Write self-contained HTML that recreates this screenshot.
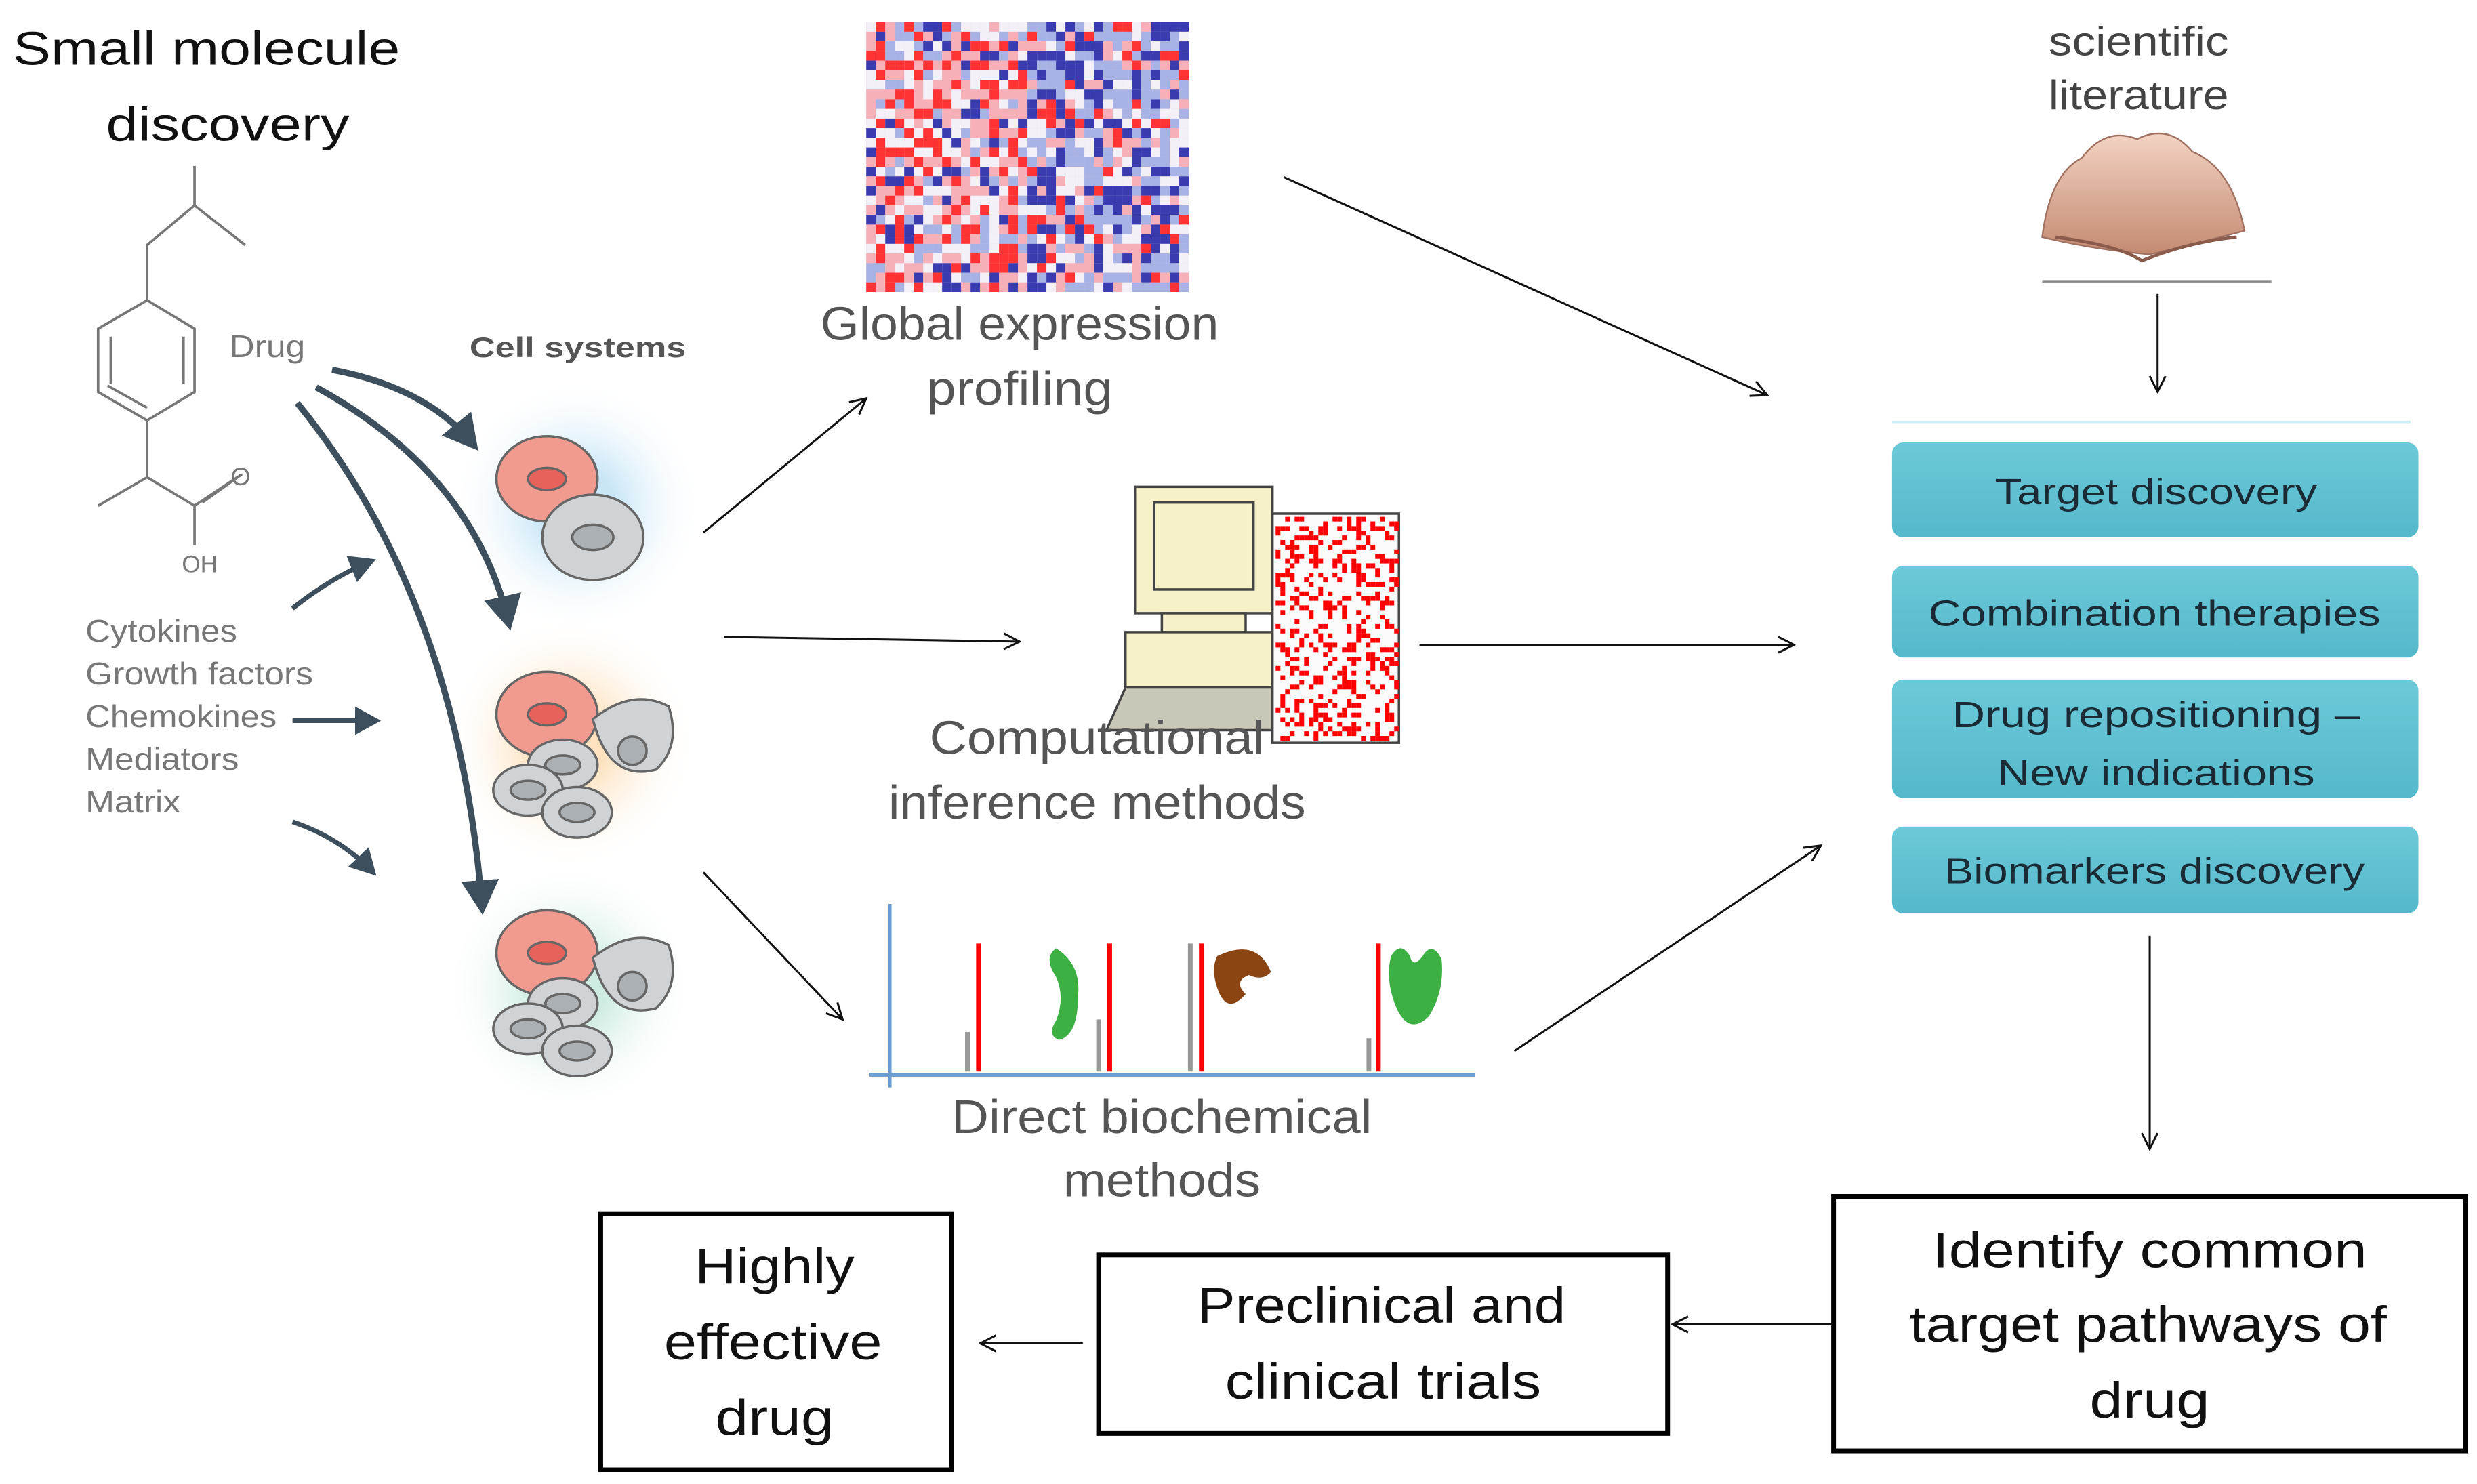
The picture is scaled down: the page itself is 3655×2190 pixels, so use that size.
<!DOCTYPE html>
<html><head><meta charset="utf-8"><style>
html,body{margin:0;padding:0;background:#fff;width:3655px;height:2190px;overflow:hidden}
svg{display:block}
text{font-family:"Liberation Sans",sans-serif}
</style></head><body>
<svg id="s" width="3655" height="2190" viewBox="0 0 1567 939" xmlns="http://www.w3.org/2000/svg">
<defs>
<marker id="a" markerWidth="12" markerHeight="12" refX="11" refY="6" orient="auto" markerUnits="userSpaceOnUse"><path d="M1,1 L11,6 L1,11" fill="none" stroke="#111" stroke-width="1.3"/></marker>
<marker id="t" markerWidth="6" markerHeight="6" refX="4.5" refY="3" orient="auto"><path d="M0,0 L5.5,3 L0,6 Z" fill="#3d4f5c"/></marker>
<radialGradient id="gb"><stop offset="0.3" stop-color="#c9e6f7"/><stop offset="1" stop-color="#fff" stop-opacity="0"/></radialGradient>
<radialGradient id="go"><stop offset="0.3" stop-color="#fde2bf"/><stop offset="1" stop-color="#fff" stop-opacity="0"/></radialGradient>
<radialGradient id="gg"><stop offset="0.3" stop-color="#cfece3"/><stop offset="1" stop-color="#fff" stop-opacity="0"/></radialGradient>
<linearGradient id="bx" x1="0" y1="0" x2="0" y2="1"><stop offset="0" stop-color="#6cc9d9"/><stop offset="1" stop-color="#55b9cb"/></linearGradient>
<linearGradient id="bk" x1="0" y1="0" x2="0" y2="1"><stop offset="0" stop-color="#f3d3c3"/><stop offset="1" stop-color="#c48a72"/></linearGradient>
</defs>

<text x="8" y="41" font-size="30" fill="#111" textLength="245" lengthAdjust="spacingAndGlyphs">Small molecule</text>
<text x="67" y="89" font-size="30" fill="#111" textLength="154" lengthAdjust="spacingAndGlyphs">discovery</text>

<g stroke="#777" stroke-width="1.6" fill="none">
<path d="M123,105 L123,130 L155,155 M123,130 L93,155 L93,190"/>
<path d="M93,190 L123,208 L123,248 L93,266 L62,248 L62,208 Z"/>
<path d="M70,213 L70,243 M116,213 L116,243 M93,258 L68,244"/>
<path d="M93,266 L93,302 L62,320 M93,302 L123,320 L150,302 M123,320 L123,345 M128,318 L153,300"/>
</g>
<text x="146" y="307" font-size="16" fill="#777">O</text>
<text x="115" y="362" font-size="15" fill="#777">OH</text>
<text x="145" y="226" font-size="20" fill="#777" textLength="48" lengthAdjust="spacingAndGlyphs">Drug</text>
<text x="297" y="226" font-size="18" font-weight="bold" fill="#555" textLength="137" lengthAdjust="spacingAndGlyphs">Cell systems</text>
<g font-size="20" fill="#777">
<text x="54" y="406" textLength="96" lengthAdjust="spacingAndGlyphs">Cytokines</text><text x="54" y="433" textLength="144" lengthAdjust="spacingAndGlyphs">Growth factors</text><text x="54" y="460" textLength="121" lengthAdjust="spacingAndGlyphs">Chemokines</text><text x="54" y="487" textLength="97" lengthAdjust="spacingAndGlyphs">Mediators</text><text x="54" y="514" textLength="60" lengthAdjust="spacingAndGlyphs">Matrix</text>
</g>

<circle cx="365" cy="320" r="80" fill="url(#gb)"/>
<circle cx="360" cy="470" r="80" fill="url(#go)"/>
<circle cx="360" cy="625" r="80" fill="url(#gg)"/>
<g stroke="#666" stroke-width="1.5">
<ellipse cx="346" cy="303" rx="32" ry="27" fill="#f19a90"/><ellipse cx="346" cy="303" rx="12" ry="7" fill="#e8625c"/>
<ellipse cx="375" cy="340" rx="32" ry="27" fill="#cfd3d6"/><ellipse cx="375" cy="340" rx="13" ry="8" fill="#aab0b4"/>
<ellipse cx="346" cy="452" rx="32" ry="27" fill="#f19a90"/><ellipse cx="346" cy="452" rx="12" ry="7" fill="#e8625c"/>
<path d="M375,455 q25,-20 48,-8 q8,25 -8,40 q-30,8 -40,-32z" fill="#cfd3d6"/><circle cx="400" cy="475" r="9" fill="#aab0b4"/>
<ellipse cx="356" cy="484" rx="22" ry="16" fill="#cfd3d6"/><ellipse cx="356" cy="484" rx="11" ry="6" fill="#aab0b4"/>
<ellipse cx="334" cy="500" rx="22" ry="16" fill="#cfd3d6"/><ellipse cx="334" cy="500" rx="11" ry="6" fill="#aab0b4"/>
<ellipse cx="365" cy="514" rx="22" ry="16" fill="#cfd3d6"/><ellipse cx="365" cy="514" rx="11" ry="6" fill="#aab0b4"/>
<ellipse cx="346" cy="603" rx="32" ry="27" fill="#f19a90"/><ellipse cx="346" cy="603" rx="12" ry="7" fill="#e8625c"/>
<path d="M375,606 q25,-20 48,-8 q8,25 -8,40 q-30,8 -40,-32z" fill="#cfd3d6"/><circle cx="400" cy="624" r="9" fill="#aab0b4"/>
<ellipse cx="356" cy="635" rx="22" ry="16" fill="#cfd3d6"/><ellipse cx="356" cy="635" rx="11" ry="6" fill="#aab0b4"/>
<ellipse cx="334" cy="651" rx="22" ry="16" fill="#cfd3d6"/><ellipse cx="334" cy="651" rx="11" ry="6" fill="#aab0b4"/>
<ellipse cx="365" cy="665" rx="22" ry="16" fill="#cfd3d6"/><ellipse cx="365" cy="665" rx="11" ry="6" fill="#aab0b4"/>
</g>
<g stroke="#3d4f5c" stroke-width="4" fill="none" marker-end="url(#t)">
<path d="M210,234 Q270,245 300,282"/>
<path d="M200,245 Q300,300 322,395"/>
<path d="M188,255 Q290,380 305,575"/>
<path d="M185,385 Q210,365 235,355" stroke-width="3"/>
<path d="M185,456 L238,456" stroke-width="3"/>
<path d="M185,520 Q215,530 236,552" stroke-width="3"/>
</g>

<rect x="548" y="14" width="204" height="170" fill="#e8c8d8"/>
<g id="hm"></g>
<text x="645" y="215" font-size="30" fill="#555" text-anchor="middle" textLength="252" lengthAdjust="spacingAndGlyphs">Global expression</text>
<text x="645" y="256" font-size="30" fill="#555" text-anchor="middle" textLength="118" lengthAdjust="spacingAndGlyphs">profiling</text>

<g stroke="#444" stroke-width="1.5">
<rect x="718" y="308" width="87" height="80" fill="#f7f1c9"/>
<rect x="730" y="318" width="63" height="55" fill="#f7f1c9"/>
<rect x="735" y="388" width="53" height="12" fill="#f7f1c9"/>
<rect x="712" y="400" width="110" height="35" fill="#f7f1c9"/>
<path d="M712,435 L700,462 L815,462 L815,435Z" fill="#c8c7b8"/>
<rect x="805" y="325" width="80" height="145" fill="#fafafa"/>
</g>
<g id="cm"></g>
<text x="694" y="477" font-size="30" fill="#555" text-anchor="middle" textLength="212" lengthAdjust="spacingAndGlyphs">Computational</text>
<text x="694" y="518" font-size="30" fill="#555" text-anchor="middle" textLength="264" lengthAdjust="spacingAndGlyphs">inference methods</text>

<line x1="563" y1="572" x2="563" y2="688" stroke="#6a9bd1" stroke-width="2"/>
<line x1="550" y1="680" x2="933" y2="680" stroke="#6a9bd1" stroke-width="2.5"/>
<g stroke="red" stroke-width="3"><line x1="619" y1="597" x2="619" y2="678"/><line x1="702" y1="597" x2="702" y2="678"/><line x1="760" y1="597" x2="760" y2="678"/><line x1="872" y1="597" x2="872" y2="678"/></g>
<g stroke="#999" stroke-width="3"><line x1="612" y1="653" x2="612" y2="678"/><line x1="695" y1="645" x2="695" y2="678"/><line x1="753" y1="597" x2="753" y2="678"/><line x1="866" y1="657" x2="866" y2="678"/></g>
<path d="M668,600 q16,10 14,30 q0,25 -12,28 q-8,-3 -2,-12 q6,-15 0,-28 q-8,-12 0,-18z" fill="#3cb043"/>
<path d="M770,605 q25,-12 34,10 q-5,6 -14,2 q-10,4 -2,12 q-12,14 -18,-4 q-4,-12 0,-20z" fill="#8b4513"/>
<path d="M880,605 q6,-10 12,0 q2,8 8,0 q6,-10 12,2 q2,20 -8,36 q-12,12 -20,-4 q-8,-18 -4,-34z" fill="#3cb043"/>
<text x="735" y="717" font-size="30" fill="#555" text-anchor="middle" textLength="266" lengthAdjust="spacingAndGlyphs">Direct biochemical</text>
<text x="735" y="757" font-size="30" fill="#555" text-anchor="middle" textLength="125" lengthAdjust="spacingAndGlyphs">methods</text>

<text x="1353" y="35" font-size="26" fill="#444" text-anchor="middle" textLength="114" lengthAdjust="spacingAndGlyphs">scientific</text>
<text x="1353" y="69" font-size="26" fill="#444" text-anchor="middle" textLength="114" lengthAdjust="spacingAndGlyphs">literature</text>
<path d="M1292,150 q5,-40 25,-50 q15,-20 35,-12 q20,-10 35,8 q25,10 33,50 q-30,8 -60,15 q-35,-3 -68,-11z" fill="url(#bk)" stroke="#a07060" stroke-width="1"/>
<path d="M1300,150 q40,5 55,15 q30,-12 60,-15" fill="none" stroke="#8a5a4a" stroke-width="2"/>
<line x1="1292" y1="178" x2="1437" y2="178" stroke="#888" stroke-width="1.5"/>
<line x1="1197" y1="267" x2="1525" y2="267" stroke="#cfeef5" stroke-width="1.5"/>

<g stroke="#111" stroke-width="1.3" fill="none" marker-end="url(#a)">
<line x1="1365" y1="186" x2="1365" y2="248"/>
<line x1="1360" y1="592" x2="1360" y2="727"/>
<line x1="445" y1="337" x2="548" y2="252"/>
<line x1="458" y1="403" x2="645" y2="406"/>
<line x1="445" y1="552" x2="533" y2="645"/>
<line x1="812" y1="112" x2="1118" y2="250"/>
<line x1="898" y1="408" x2="1135" y2="408"/>
<line x1="958" y1="665" x2="1152" y2="535"/>
<line x1="1160" y1="838" x2="1058" y2="838"/>
<line x1="685" y1="850" x2="620" y2="850"/>
</g>

<g fill="url(#bx)"><rect x="1197" y="280" width="333" height="60" rx="7"/><rect x="1197" y="358" width="333" height="58" rx="7"/><rect x="1197" y="430" width="333" height="75" rx="7"/><rect x="1197" y="523" width="333" height="55" rx="7"/></g>
<g font-size="23" fill="#1b2b35" text-anchor="middle">
<text x="1364" y="319" textLength="204" lengthAdjust="spacingAndGlyphs">Target discovery</text>
<text x="1363" y="396" textLength="286" lengthAdjust="spacingAndGlyphs">Combination therapies</text>
<text x="1364" y="460" textLength="258" lengthAdjust="spacingAndGlyphs">Drug repositioning –</text>
<text x="1364" y="497" textLength="201" lengthAdjust="spacingAndGlyphs">New indications</text>
<text x="1363" y="559" textLength="266" lengthAdjust="spacingAndGlyphs">Biomarkers discovery</text>
</g>

<g fill="#fff" stroke="#000" stroke-width="3">
<rect x="1160" y="757" width="400" height="161"/><rect x="695" y="794" width="360" height="113"/><rect x="380" y="768" width="222" height="162"/>
</g>
<g font-size="32" fill="#111" text-anchor="middle">
<text x="1360" y="802" textLength="275" lengthAdjust="spacingAndGlyphs">Identify common</text><text x="1359" y="849" textLength="302" lengthAdjust="spacingAndGlyphs">target pathways of</text><text x="1360" y="897" textLength="76" lengthAdjust="spacingAndGlyphs">drug</text>
<text x="874" y="837" textLength="233" lengthAdjust="spacingAndGlyphs">Preclinical and</text><text x="875" y="885" textLength="200" lengthAdjust="spacingAndGlyphs">clinical trials</text>
<text x="490" y="812" textLength="101" lengthAdjust="spacingAndGlyphs">Highly</text><text x="489" y="860" textLength="138" lengthAdjust="spacingAndGlyphs">effective</text><text x="490" y="908" textLength="75" lengthAdjust="spacingAndGlyphs">drug</text>
</g>
</svg>
<script>
var seed=7;function r(){seed=(seed*9301+49297)%233280;return seed/233280;}
var hm=document.getElementById("hm"),h="";
for(var i=0;i<34;i++)for(var j=0;j<28;j++){var x=548+i*6,y=14+j*6.1;var left=i<17,top=j<14;var redbias=(left&&top)||(!left&&!top)?0.65:0.25;var v=r();var c;if(v<redbias){c=r()<0.4?"#f33":"#f7b0b8";}else{c=r()<0.5?"#3b3bb0":"#a8b2e4";}if(r()<0.2)c="#f4f0f8";h+='<rect x="'+x+'" y="'+y+'" width="6" height="6.1" fill="'+c+'"/>';}
hm.innerHTML=h;
var cm=document.getElementById("cm");h="";
for(var i=0;i<26;i++)for(var j=0;j<48;j++){if(r()<0.3)h+='<rect x="'+(807+i*3)+'" y="'+(327+j*2.95)+'" width="3" height="3" fill="#f00"/>';}
cm.innerHTML=h;
</script>
</body></html>
